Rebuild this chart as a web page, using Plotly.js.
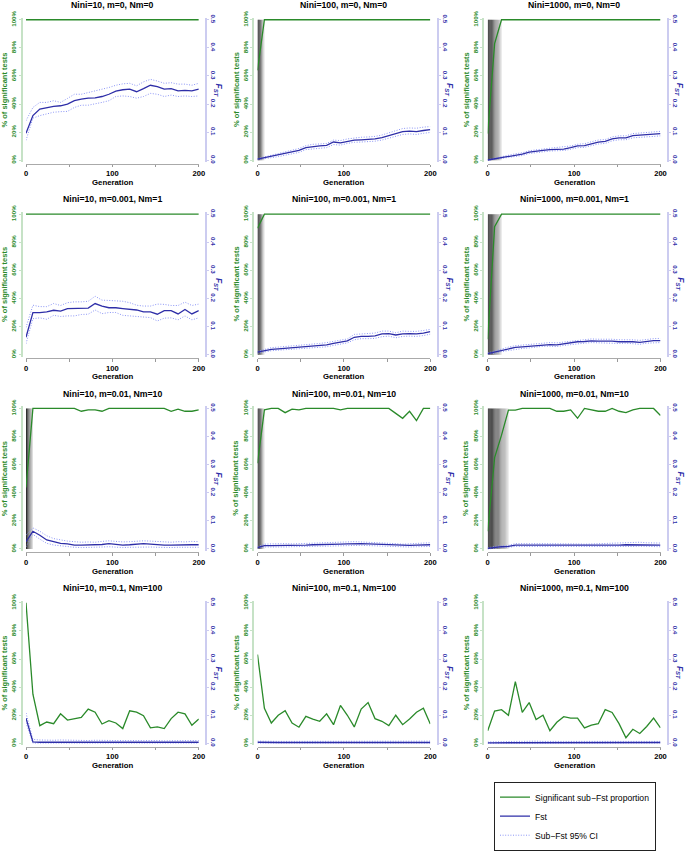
<!DOCTYPE html>
<html>
<head>
<meta charset="utf-8">
<script src="https://cdn.plot.ly/plotly-3.0.1.min.js"></script>
<style>
  html, body { margin: 0; padding: 0; background: #fff; }
  #chart { width: 685px; height: 851px; }
</style>
</head>
<body>
<div id="chart"></div>
<script>
// Generations sampled every 8 steps
const generations = [0, 8, 16, 24, 32, 40, 48, 56, 64, 72, 80, 88, 96, 104, 112, 120, 128, 136, 144, 152, 160, 168, 176, 184, 192, 200];

const panelTitles = [
    'Nini=10, m=0, Nm=0', 'Nini=100, m=0, Nm=0', 'Nini=1000, m=0, Nm=0',
    'Nini=10, m=0.001, Nm=1', 'Nini=100, m=0.001, Nm=1', 'Nini=1000, m=0.001, Nm=1',
    'Nini=10, m=0.01, Nm=10', 'Nini=100, m=0.01, Nm=10', 'Nini=1000, m=0.01, Nm=10',
    'Nini=10, m=0.1, Nm=100', 'Nini=100, m=0.1, Nm=100', 'Nini=1000, m=0.1, Nm=100'
];

const pctTicks = [0, 20, 40, 60, 80, 100];
const pctLabels = ['0%', '20%', '40%', '60%', '80%', '100%'];
const fstTicks = [0, 0.1, 0.2, 0.3, 0.4, 0.5];
const fstLabels = ['0.0', '0.1', '0.2', '0.3', '0.4', '0.5'];

// % of significant sub-Fst tests
const sigProp = [
    [100,100,100,100,100,100,100,100,100,100,100,100,100,100,100,100,100,100,100,100,100,100,100,100,100,100],
    [64,100,100,100,100,100,100,100,100,100,100,100,100,100,100,100,100,100,100,100,100,100,100,100,100,100],
    [19,83,100,100,100,100,100,100,100,100,100,100,100,100,100,100,100,100,100,100,100,100,100,100,100,100],
    [100,100,100,100,100,100,100,100,100,100,100,100,100,100,100,100,100,100,100,100,100,100,100,100,100,100],
    [90,100,100,100,100,100,100,100,100,100,100,100,100,100,100,100,100,100,100,100,100,100,100,100,100,100],
    [11,91,100,100,100,100,100,100,100,100,100,100,100,100,100,100,100,100,100,100,100,100,100,100,100,100],
    [43.8,100,100,100,100,100,100,100,98,99,99,98,100,100,100,100,100,100,100,100,100,98,99.5,98,98,99],
    [61,99,100,100,97,99.5,99,100,100,100,100,100,99,100,100,100,100,100,100,100,96.5,93,98,91.3,100,100],
    [12.6,65,81,98.8,98.8,100,100,100,100,100,98,98,99,93,100,99,98,98,100,98,97,99,100,100,100,95],
    [100,35,12.6,15.2,14,21,16.6,17.8,18.5,24.4,22.2,13.8,16.2,14.5,10.5,23.2,22.2,19.7,11,11.7,10.5,17.6,22.2,21,12.9,17.3],
    [63.2,25,14.5,20,23.2,14.5,11.5,19.2,17.3,15.7,21,13.3,27,20,11.7,24.4,29,17.6,15.7,12.6,20,13.3,17.3,22.2,25,13.8],
    [9,23,24,20,44,22,29,17,20,9,15,19,18,18,11,13,14,24,22,14,4,10,7,12,18,11]
];

const fstMean = [
    [0.096,0.159,0.182,0.188,0.192,0.194,0.200,0.212,0.218,0.221,0.222,0.227,0.235,0.246,0.251,0.253,0.244,0.255,0.267,0.262,0.253,0.255,0.247,0.249,0.247,0.253],
    [0.004,0.009,0.013,0.018,0.024,0.029,0.035,0.045,0.049,0.051,0.053,0.065,0.062,0.068,0.072,0.073,0.074,0.076,0.081,0.088,0.095,0.102,0.104,0.102,0.106,0.109],
    [0.001,0.005,0.009,0.014,0.018,0.022,0.029,0.033,0.035,0.038,0.039,0.040,0.045,0.051,0.052,0.059,0.065,0.067,0.076,0.080,0.080,0.088,0.089,0.091,0.093,0.095],
    [0.062,0.150,0.150,0.152,0.158,0.155,0.164,0.164,0.164,0.166,0.182,0.173,0.167,0.167,0.164,0.161,0.159,0.152,0.152,0.144,0.157,0.157,0.145,0.161,0.145,0.157],
    [0.009,0.014,0.019,0.021,0.023,0.026,0.027,0.028,0.030,0.033,0.035,0.040,0.044,0.049,0.062,0.065,0.065,0.067,0.074,0.075,0.070,0.074,0.075,0.074,0.077,0.082],
    [0.004,0.009,0.016,0.021,0.026,0.028,0.030,0.033,0.036,0.036,0.035,0.039,0.042,0.046,0.047,0.049,0.048,0.049,0.048,0.046,0.047,0.046,0.044,0.048,0.050,0.050],
    [0.026,0.063,0.049,0.032,0.026,0.020,0.018,0.014,0.014,0.014,0.014,0.016,0.019,0.016,0.014,0.015,0.017,0.019,0.017,0.015,0.014,0.014,0.015,0.014,0.015,0.015],
    [0.005,0.012,0.012,0.012,0.013,0.013,0.014,0.014,0.015,0.015,0.016,0.017,0.017,0.018,0.019,0.019,0.018,0.017,0.015,0.015,0.013,0.012,0.013,0.014,0.015,0.015],
    [0.002,0.006,0.008,0.009,0.014,0.014,0.014,0.013,0.013,0.013,0.014,0.014,0.014,0.013,0.012,0.012,0.013,0.013,0.014,0.014,0.015,0.015,0.016,0.016,0.016,0.014],
    [0.090,0.005,0.004,0.004,0.004,0.005,0.004,0.004,0.004,0.004,0.004,0.004,0.003,0.004,0.004,0.004,0.004,0.004,0.004,0.004,0.003,0.004,0.004,0.004,0.004,0.004],
    [0.004,0.003,0.003,0.003,0.003,0.003,0.003,0.003,0.003,0.003,0.003,0.003,0.004,0.004,0.003,0.003,0.004,0.003,0.003,0.003,0.003,0.003,0.003,0.003,0.003,0.003],
    [0.002,0.002,0.002,0.003,0.003,0.003,0.003,0.003,0.003,0.002,0.003,0.003,0.003,0.003,0.003,0.003,0.003,0.003,0.003,0.003,0.002,0.003,0.003,0.003,0.003,0.003]
];

const ciHigh = [
    [0.141,0.188,0.206,0.206,0.212,0.206,0.220,0.235,0.235,0.241,0.246,0.251,0.259,0.267,0.272,0.274,0.265,0.279,0.288,0.282,0.274,0.276,0.271,0.271,0.267,0.274],
    [0.006,0.013,0.018,0.024,0.030,0.036,0.042,0.052,0.057,0.058,0.060,0.072,0.070,0.076,0.080,0.082,0.083,0.085,0.090,0.098,0.105,0.113,0.115,0.114,0.118,0.120],
    [0.002,0.008,0.013,0.018,0.023,0.027,0.034,0.038,0.040,0.043,0.045,0.047,0.051,0.057,0.059,0.066,0.072,0.074,0.083,0.087,0.087,0.095,0.097,0.099,0.101,0.103],
    [0.097,0.176,0.171,0.171,0.182,0.175,0.185,0.188,0.188,0.190,0.208,0.194,0.193,0.192,0.190,0.185,0.176,0.173,0.173,0.180,0.179,0.175,0.175,0.187,0.175,0.180],
    [0.012,0.019,0.025,0.027,0.029,0.032,0.033,0.034,0.036,0.040,0.043,0.047,0.051,0.056,0.072,0.074,0.074,0.077,0.084,0.084,0.078,0.084,0.083,0.083,0.086,0.090],
    [0.006,0.013,0.021,0.027,0.032,0.034,0.036,0.039,0.042,0.043,0.042,0.045,0.048,0.052,0.054,0.056,0.055,0.056,0.055,0.053,0.054,0.053,0.051,0.055,0.057,0.058],
    [0.049,0.075,0.063,0.047,0.037,0.032,0.028,0.026,0.024,0.025,0.024,0.027,0.029,0.027,0.025,0.026,0.028,0.029,0.028,0.026,0.025,0.024,0.026,0.025,0.027,0.026],
    [0.008,0.017,0.018,0.019,0.019,0.018,0.019,0.020,0.021,0.020,0.022,0.023,0.024,0.025,0.026,0.025,0.024,0.024,0.022,0.021,0.019,0.017,0.019,0.020,0.021,0.022],
    [0.004,0.009,0.011,0.013,0.019,0.020,0.019,0.019,0.019,0.019,0.020,0.019,0.020,0.018,0.017,0.018,0.019,0.020,0.021,0.021,0.022,0.023,0.024,0.022,0.022,0.021],
    [0.108,0.014,0.012,0.011,0.011,0.012,0.011,0.011,0.011,0.010,0.011,0.010,0.009,0.010,0.010,0.011,0.010,0.010,0.011,0.010,0.009,0.010,0.010,0.010,0.010,0.010],
    [0.008,0.007,0.007,0.007,0.007,0.007,0.007,0.007,0.007,0.007,0.007,0.008,0.009,0.009,0.008,0.008,0.009,0.008,0.007,0.007,0.007,0.007,0.007,0.007,0.007,0.008],
    [0.005,0.006,0.006,0.007,0.007,0.007,0.008,0.008,0.007,0.006,0.007,0.007,0.007,0.007,0.007,0.007,0.007,0.007,0.007,0.007,0.006,0.007,0.007,0.007,0.007,0.007]
];

const ciLow = [
    [0.071,0.150,0.159,0.165,0.171,0.173,0.174,0.188,0.196,0.196,0.200,0.206,0.212,0.227,0.229,0.227,0.221,0.227,0.238,0.235,0.227,0.232,0.227,0.229,0.227,0.229],
    [0.002,0.005,0.009,0.013,0.018,0.022,0.028,0.038,0.041,0.043,0.045,0.056,0.054,0.060,0.064,0.065,0.066,0.068,0.072,0.079,0.085,0.092,0.094,0.092,0.096,0.099],
    [0.000,0.003,0.006,0.010,0.014,0.017,0.024,0.028,0.030,0.033,0.034,0.035,0.039,0.045,0.046,0.052,0.058,0.060,0.069,0.073,0.073,0.080,0.081,0.083,0.085,0.087],
    [0.039,0.128,0.131,0.126,0.140,0.136,0.138,0.138,0.143,0.144,0.159,0.146,0.150,0.150,0.140,0.138,0.136,0.133,0.132,0.120,0.130,0.131,0.124,0.138,0.124,0.131],
    [0.005,0.010,0.014,0.016,0.018,0.020,0.021,0.022,0.024,0.026,0.028,0.033,0.037,0.042,0.053,0.057,0.057,0.058,0.064,0.066,0.060,0.065,0.066,0.065,0.068,0.073],
    [0.002,0.005,0.011,0.015,0.020,0.022,0.024,0.027,0.030,0.030,0.029,0.033,0.036,0.040,0.041,0.043,0.042,0.043,0.042,0.040,0.041,0.040,0.037,0.041,0.043,0.043],
    [0.008,0.052,0.035,0.020,0.014,0.011,0.008,0.006,0.005,0.005,0.006,0.007,0.008,0.006,0.005,0.006,0.007,0.008,0.007,0.006,0.005,0.005,0.006,0.005,0.006,0.006],
    [0.002,0.007,0.007,0.006,0.007,0.008,0.009,0.009,0.009,0.010,0.010,0.011,0.011,0.012,0.013,0.013,0.012,0.011,0.009,0.009,0.007,0.006,0.007,0.008,0.009,0.009],
    [0.000,0.003,0.005,0.006,0.009,0.009,0.009,0.008,0.008,0.008,0.008,0.009,0.009,0.008,0.007,0.007,0.008,0.008,0.008,0.008,0.009,0.009,0.010,0.009,0.010,0.008],
    [0.073,0.001,0.001,0.001,0.001,0.001,0.001,0.001,0.001,0.001,0.001,0.001,0.001,0.001,0.001,0.001,0.001,0.001,0.001,0.001,0.001,0.001,0.001,0.001,0.001,0.001],
    [0.001,0.001,0.001,0.001,0.001,0.001,0.001,0.001,0.001,0.001,0.001,0.001,0.001,0.001,0.001,0.001,0.001,0.001,0.001,0.001,0.001,0.001,0.001,0.001,0.001,0.001],
    [0.000,0.000,0.000,0.001,0.001,0.001,0.001,0.001,0.001,0.000,0.001,0.001,0.001,0.001,0.001,0.001,0.001,0.001,0.001,0.001,0.000,0.001,0.001,0.001,0.001,0.001]
];

// generations covered by the black-to-grey band at the start
const shadeEnd = [0, 8, 16, 0, 8, 16, 8, 8, 24, 0, 0, 0];

const W = 685, H = 851;
const FONT = 'Liberation Sans, Arial, sans-serif';
const GREEN = '#2a8a2a', BLUE = '#2e2ea8', CI_BLUE = '#8b95f5';

// panel geometry in pixels
const colX0 = [26, 257.5, 487.7];
const plotW = 172.8;
const rowTop = [20, 216.7, 413.3, 610];
const plotH = 142.2;
const pad = 2;
const padU = pad / (plotH / 100);

const px = v => v / W;
const py = v => 1 - v / H;
const axId = n => (n === 1 ? '' : String(n));

const data = [];
const layout = {
    width: W, height: H,
    margin: { l: 0, r: 0, t: 0, b: 0 },
    paper_bgcolor: '#fff', plot_bgcolor: 'rgba(0,0,0,0)',
    font: { family: FONT, color: '#000' },
    showlegend: true,
    legend: {
        x: px(494), y: py(791), xanchor: 'left', yanchor: 'top',
        bordercolor: '#222', borderwidth: 1, bgcolor: '#fff',
        font: { size: 8.6, family: FONT, color: '#000' },
        itemwidth: 30, tracegroupgap: 0
    },
    shapes: [],
    annotations: []
};

for (let i = 0; i < 12; i++) {
    const col = i % 3, row = Math.floor(i / 3);
    const xn = i + 1, yl = 2 * i + 1, yr = 2 * i + 2;
    const x0 = colX0[col], x1 = x0 + plotW;
    const top = rowTop[row], bottom = top + plotH;
    const leftAx = x0 - 4.5, rightAx = x1 + 7.2;

    layout['xaxis' + axId(xn)] = {
        domain: [px(x0), px(x1)], range: [0, 200],
        anchor: 'free', position: py(bottom + 3.5),
        showline: true, linecolor: '#aaaaaa', linewidth: 1,
        ticks: 'outside', ticklen: 2.5, tickcolor: '#999',
        tickvals: [0, 100, 200], ticktext: ['0', '100', '200'],
        minor: { tickvals: [50, 150], ticks: 'outside', ticklen: 2.5, tickcolor: '#999' },
        tickfont: { size: 7.6, family: FONT, weight: 'bold', color: '#000' },
        showgrid: false, zeroline: false, fixedrange: true
    };
    layout['yaxis' + axId(yl)] = {
        domain: [py(bottom + pad), py(top - pad)], range: [-padU, 100 + padU],
        anchor: 'free', position: px(leftAx),
        showline: true, linecolor: '#c6e2c6', linewidth: 2,
        ticks: 'outside', ticklen: 2, tickcolor: '#c6e2c6',
        tickvals: pctTicks, ticktext: pctLabels, tickangle: -90,
        tickfont: { size: 6.2, family: FONT, weight: 'bold', color: GREEN },
        showgrid: false, zeroline: false, fixedrange: true
    };
    layout['yaxis' + axId(yr)] = {
        overlaying: 'y' + axId(yl), side: 'right',
        range: [-padU * 0.005, 0.5 + padU * 0.005],
        anchor: 'free', position: px(rightAx),
        showline: true, linecolor: '#ccccf0', linewidth: 2,
        ticks: 'outside', ticklen: 2, tickcolor: '#ccccf0',
        tickvals: fstTicks, ticktext: fstLabels, tickangle: 90,
        tickfont: { size: 6.2, family: FONT, weight: 'bold', color: BLUE },
        showgrid: false, zeroline: false, fixedrange: true
    };

    // grey gradient band, one strip per generation
    const s = shadeEnd[i];
    for (let k = 0; k < s; k++) {
        const g = Math.round(16 + (216 - 16) * k / Math.max(1, s - 1));
        layout.shapes.push({
            type: 'rect', layer: 'below',
            xref: 'x' + axId(xn), yref: 'y' + axId(yl),
            x0: k, x1: k + 1, y0: 0, y1: 100,
            fillcolor: `rgb(${g},${g},${g})`, line: { width: 0 }
        });
    }

    const first = i === 0;
    data.push({
        x: generations, y: sigProp[i], xaxis: 'x' + axId(xn), yaxis: 'y' + axId(yl),
        type: 'scatter', mode: 'lines', name: 'Significant sub\u2212Fst proportion',
        line: { color: GREEN, width: 1.3 }, showlegend: first, hoverinfo: 'skip'
    });
    data.push({
        x: generations, y: ciHigh[i], xaxis: 'x' + axId(xn), yaxis: 'y' + axId(yr),
        type: 'scatter', mode: 'lines', name: 'Sub\u2212Fst 95% CI', legendrank: 3,
        line: { color: CI_BLUE, width: 1, dash: '1px,1.6px' }, showlegend: first, hoverinfo: 'skip'
    });
    data.push({
        x: generations, y: ciLow[i], xaxis: 'x' + axId(xn), yaxis: 'y' + axId(yr),
        type: 'scatter', mode: 'lines', name: 'Sub\u2212Fst 95% CI',
        line: { color: CI_BLUE, width: 1, dash: '1px,1.6px' }, showlegend: false, hoverinfo: 'skip'
    });
    data.push({
        x: generations, y: fstMean[i], xaxis: 'x' + axId(xn), yaxis: 'y' + axId(yr),
        type: 'scatter', mode: 'lines', name: 'Fst', legendrank: 2,
        line: { color: BLUE, width: 1.3 }, showlegend: first, hoverinfo: 'skip'
    });
    data[data.length - 4].legendrank = 1;

    const midY = (top + bottom) / 2;
    layout.annotations.push(
        {
            text: panelTitles[i], xref: 'paper', yref: 'paper',
            x: px((x0 + x1) / 2), y: py(top - 15), xanchor: 'center', yanchor: 'middle',
            showarrow: false, font: { size: 8.7, family: FONT, weight: 'bold', color: '#000' }
        },
        {
            text: '% of significant tests', xref: 'paper', yref: 'paper',
            x: px(leftAx - 17), y: py(midY), xanchor: 'center', yanchor: 'middle', textangle: -90,
            showarrow: false, font: { size: 7.5, family: FONT, weight: 'bold', color: GREEN }
        },
        {
            text: '<i>F<sub>ST</sub></i>', xref: 'paper', yref: 'paper',
            x: px(rightAx + 12.5), y: py(midY), xanchor: 'center', yanchor: 'middle', textangle: 90,
            showarrow: false, font: { size: 8.5, family: FONT, weight: 'bold', color: BLUE }
        },
        {
            text: 'Generation', xref: 'paper', yref: 'paper',
            x: px((x0 + x1) / 2), y: py(bottom + 22.5), xanchor: 'center', yanchor: 'middle',
            showarrow: false, font: { size: 7.8, family: FONT, weight: 'bold', color: '#000' }
        }
    );
}

window.Plotly.newPlot('chart', data, layout, { staticPlot: true, displayModeBar: false });
</script>
</body>
</html>
